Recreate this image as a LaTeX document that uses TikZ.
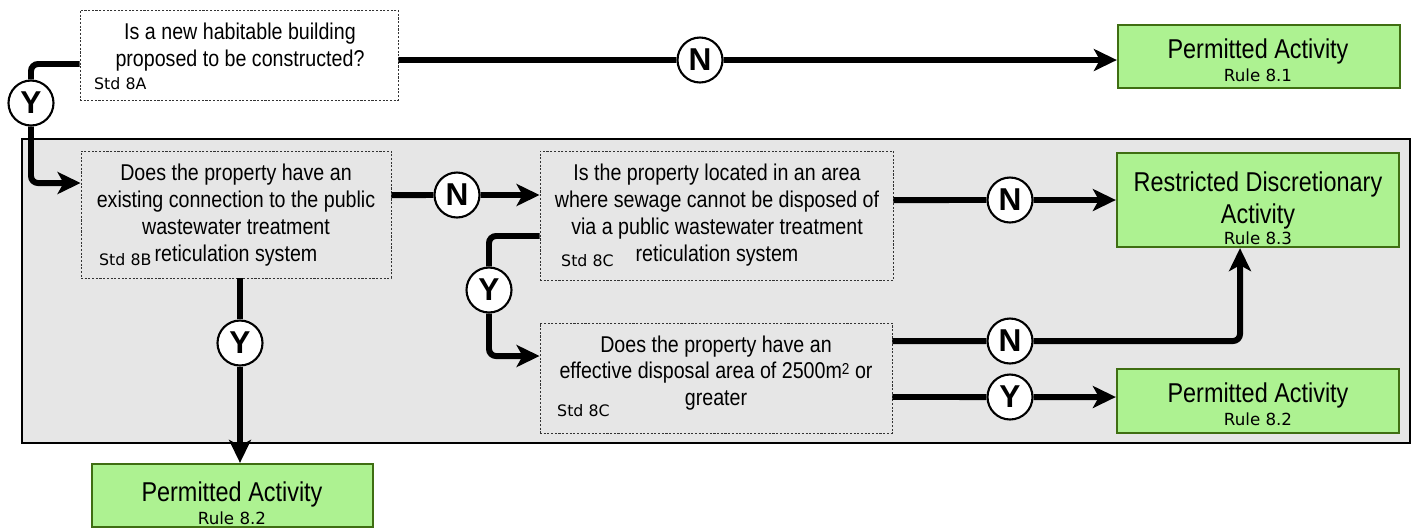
\documentclass[tikz,border=0pt]{standalone}
\usepackage{fontspec}
\setmainfont{Liberation Sans}[FakeStretch=0.86]
\newfontfamily\stdfont{DejaVu Sans}
\newfontfamily\ynfont{Liberation Sans}
\newcommand\rulefont{\stdfont\fontsize{9.5}{11}\selectfont}
\usetikzlibrary{arrows.meta,fit}
\definecolor{panelgray}{HTML}{E6E6E6}
\definecolor{okgreen}{HTML}{ADF291}
\definecolor{okedge}{HTML}{3F6E12}

\begin{document}
\begin{tikzpicture}[x=0.02cm, y=-0.02cm,
    panel/.style ={draw=black, line width=1.1pt, fill=panelgray, inner sep=0pt},
    question/.style ={draw=black!80, dash pattern=on 1.2pt off 0.9pt, line width=0.5pt, inner sep=0pt},
    outcome/.style ={draw=okedge, line width=1.3pt, fill=okgreen, inner sep=0pt},
    qtext/.style ={align=center, font=\fontsize{13}{15.3}\selectfont},
    otext/.style ={align=center, font=\fontsize{15.5}{18}\selectfont},
    std/.style ={anchor=base west, font=\stdfont\fontsize{9}{10}\selectfont},
    answer/.style ={circle, draw, line width=1.2pt, fill=white, minimum size=0.9cm, inner sep=0pt,
      font=\ynfont\bfseries\fontsize{18}{18}\selectfont},
    flow/.style ={line width=3.4pt, rounded corners=4pt, -{Stealth[length=0.46cm, width=0.44cm, inset=0.12cm]}}]
   \useasboundingbox (0,0) rectangle (1416,529);
   \node[panel, fit={(22,139) (1410,443)}] (panel) {};

   \node[question, fill=white, fit={(80,10) (398,100)}] (qa) {};
   \node[question, fit={(81,151) (391,278)}] (qb) {};
   \node[question, fit={(540,151) (893,280)}] (qc) {};
   \node[question, fit={(540,323) (892,433)}] (qd) {};
   \node[outcome, fit={(1118,25) (1400,88)}] (pa) {};
   \node[outcome, fit={(1117,153) (1399,247)}] (rd) {};
   \node[outcome, fit={(1117,369) (1399,433)}] (pb) {};
   \node[outcome, fit={(92,464) (373,527)}] (pc) {};

   \node[qtext] (qatext) at (240,47) {Is a new habitable building\\proposed to be constructed?};
   \node[std] (qastd) at (88,89) {Std 8A};
   \node[qtext] (qbtext) at (236,215) {Does the property have an\\existing connection to the public\\wastewater treatment\\reticulation system};
   \node[std] (qbstd) at (93,265) {Std 8B};
   \node[qtext] (qctext) at (717,215) {Is the property located in an area\\where sewage cannot be disposed of\\via a public wastewater treatment\\reticulation system};
   \node[std] (qcstd) at (555,266) {Std 8C};
   \node[qtext] (qdtext) at (716,373) {Does the property have an\\effective disposal area of 2500m{\fontsize{9}{9}\selectfont\raisebox{0.5ex}{2}} or\\greater};
   \node[std] (qdstd) at (551,416) {Std 8C};

   \node[otext] (patext) at (1258,60) {Permitted Activity\\[-5pt]{\rulefont Rule 8.1}};
   \node[otext] (rdtext) at (1258,208) {Restricted Discretionary\\Activity\\[-6pt]{\rulefont Rule 8.3}};
   \node[otext] (pbtext) at (1258,404) {Permitted Activity\\[-5pt]{\rulefont Rule 8.2}};
   \node[otext] (pctext) at (232,503) {Permitted Activity\\[-5pt]{\rulefont Rule 8.2}};

   \node[answer] (ya) at (31,103) {Y};
   \node[answer] (na) at (700,60) {N};
   \node[answer] (nb) at (457,195) {N};
   \node[answer] (nc) at (1010,200) {N};
   \node[answer] (yc) at (489,290) {Y};
   \node[answer] (yb) at (240,343) {Y};
   \node[answer] (nd) at (1010,341) {N};
   \node[answer] (yd) at (1010,397) {Y};

   \draw[flow] ([yshift=-0.18cm]qa.west) -| (ya) |- ([yshift=0.63cm]qb.west);
   \draw[flow] ([yshift=-0.1cm]qa.east) to (na) to (na -| pa.west);
   \draw[flow] ([yshift=0.39cm]qb.east) to (nb) to (nb -| qc.west);
   \draw[flow] ([yshift=0.31cm]qc.east) to (nc) to (nc -| rd.west);
   \draw[flow] ([yshift=-0.41cm]qc.west) -| (yc) |- ([yshift=0.44cm]qd.west);
   \draw[flow] (yb |- qb.south) to (yb) to (yb |- pc.north);
   \draw[flow] ([yshift=0.74cm]qd.east) to (nd) -| ([xshift=-0.36cm]rd.south);
   \draw[flow] ([yshift=-0.38cm]qd.east) to (yd) to (yd -| pb.west);
\end{tikzpicture}
\end{document}
